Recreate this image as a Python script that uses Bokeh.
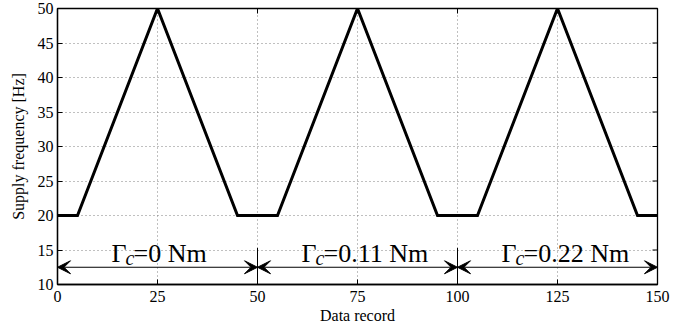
import math

from bokeh.plotting import figure
from bokeh.models import Range1d, FixedTicker, Arrow, VeeHead, ColumnDataSource
from bokeh.core.properties import value
from bokeh.embed import file_html
from bokeh.resources import INLINE

# supply frequency profile over the data records
record = [0, 5, 25, 45, 55, 75, 95, 105, 125, 145, 150]
frequency = [20, 20, 50, 20, 20, 50, 20, 20, 50, 20, 20]

# load torque segments
seg_start = [0, 50, 100]
seg_end = [50, 100, 150]
torque_text = ["=0 Nm", "=0.11 Nm", "=0.22 Nm"]

x_ticks = [0, 25, 50, 75, 100, 125, 150]
y_ticks = [10, 15, 20, 25, 30, 35, 40, 45, 50]

FONT = "Liberation Serif"
X0, X1, Y0, Y1 = 0, 150, 10, 50

p = figure(width=694, height=331, output_backend="svg", toolbar_location=None,
           x_range=Range1d(X0, X1), y_range=Range1d(Y0, Y1),
           min_border_left=57, min_border_right=37, min_border_top=8, min_border_bottom=47)
p.background_fill_color = "white"
p.border_fill_color = "white"
p.outline_line_color = "black"
p.outline_line_width = 1.3

for ax in (p.xaxis[0], p.yaxis[0]):
    ax.major_label_text_font = FONT
    ax.major_label_text_font_size = "16px"
    ax.major_label_text_color = "black"
    ax.axis_label_text_font = FONT
    ax.axis_label_text_font_size = "16px"
    ax.axis_label_text_font_style = "normal"
    ax.axis_label_text_color = "black"
    ax.major_tick_in = 5
    ax.major_tick_out = 0
    ax.minor_tick_in = 0
    ax.minor_tick_out = 0
    ax.axis_line_color = "black"
    ax.axis_line_width = 1.3
    ax.major_tick_line_color = "black"

p.xaxis[0].ticker = FixedTicker(ticks=x_ticks)
p.yaxis[0].ticker = FixedTicker(ticks=y_ticks)
p.xaxis[0].axis_label = "Data record"
p.yaxis[0].axis_label = "Supply frequency [Hz]"
p.xaxis[0].major_label_standoff = 6
p.xaxis[0].axis_label_standoff = 2
p.yaxis[0].major_label_standoff = 4
p.yaxis[0].axis_label_standoff = 8

p.xgrid.ticker = FixedTicker(ticks=x_ticks)
p.ygrid.ticker = FixedTicker(ticks=y_ticks)
for g in (p.xgrid, p.ygrid):
    g.grid_line_color = "#808080"
    g.grid_line_dash = "1 3"
    g.grid_line_width = 1

# mirrored tick marks on the top and right edges (half of each dash is clipped by the frame)
p.scatter(x=x_ticks, y=[Y1] * len(x_ticks), marker="dash", size=10, angle=math.pi / 2,
          line_color="black", line_width=1)
p.scatter(x=[X1] * len(y_ticks), y=y_ticks, marker="dash", size=10,
          line_color="black", line_width=1)

# frequency profile
p.line(record, frequency, line_color="black", line_width=3, line_join="miter")

# separators between torque segments
for b in seg_start[1:]:
    p.segment(x0=[b], y0=[Y0], x1=[b], y1=[15.3], line_color="black", line_width=1)

# double-headed arrows spanning each segment
for a, b in zip(seg_start, seg_end):
    p.add_layout(Arrow(x_start=a, y_start=12.5, x_end=b, y_end=12.5,
                       line_color="black", line_width=1,
                       start=VeeHead(size=13, fill_color="black", line_color="black"),
                       end=VeeHead(size=13, fill_color="black", line_color="black")))

# segment labels: Γ, italic subscript c, then the torque value
mids = [(a + b) / 2 for a, b in zip(seg_start, seg_end)]
eq_shift = [-6.0, -8.5, -8.5]
anchor = [m + s for m, s in zip(mids, eq_shift)]
src = ColumnDataSource(dict(x=anchor, y=[14.45] * 3, g=["Γ"] * 3, c=["c"] * 3, t=torque_text))

p.text(x="x", y="y", text="g", source=src, text_align="right", text_baseline="alphabetic",
       x_offset=-7, text_font=value(FONT), text_font_size="26px", text_color="black")
p.text(x="x", y="y", text="c", source=src, text_align="left", text_baseline="alphabetic",
       x_offset=-8, y_offset=4, text_font=value(FONT), text_font_size="20px",
       text_font_style="italic", text_color="black")
p.text(x="x", y="y", text="t", source=src, text_align="left", text_baseline="alphabetic",
       text_font=value(FONT), text_font_size="26px", text_color="black")

open("out.html", "w").write(file_html(p, INLINE))
